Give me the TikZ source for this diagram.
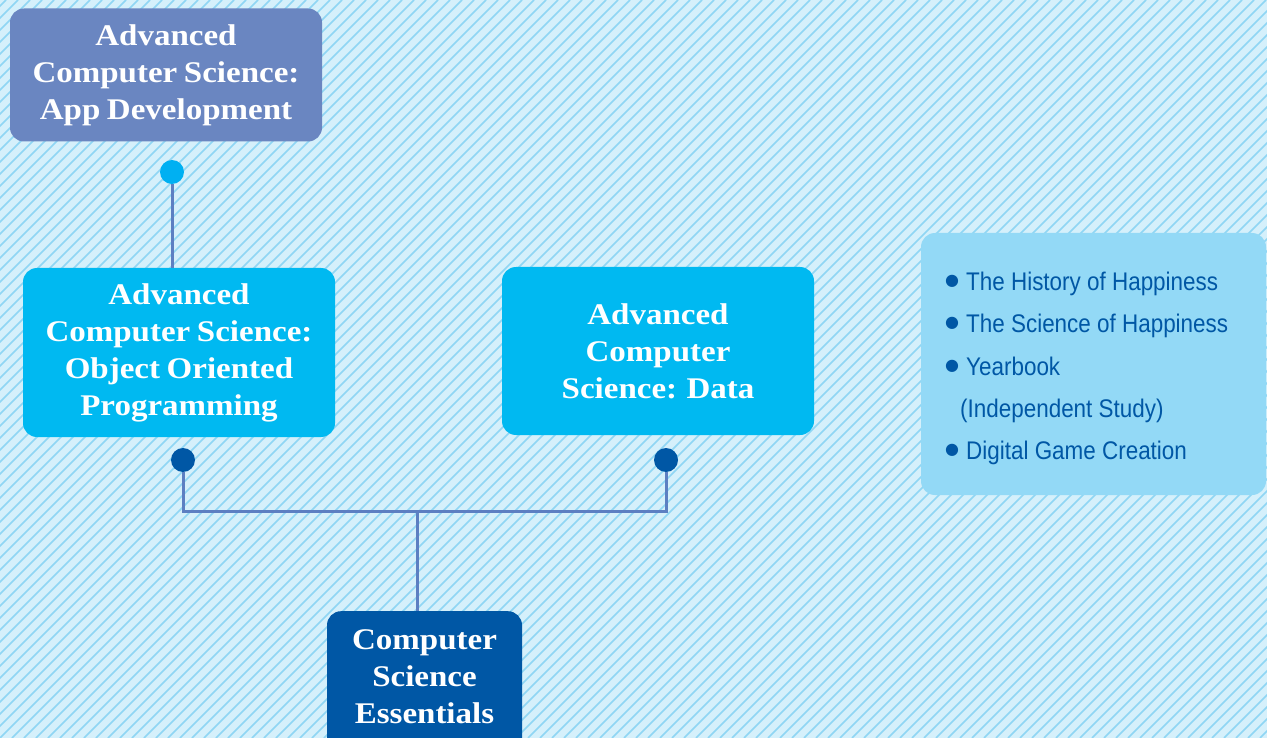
\documentclass[tikz,border=0pt]{standalone}
\usepackage{fontspec}
\setmainfont{Liberation Serif}
\newfontfamily\cursofont[FakeStretch=1.1,WordSpace=0.8]{Liberation Serif}
\newfontfamily\listafont[FakeStretch=0.88]{Liberation Sans}
\newfontfamily\simbolo{DejaVu Sans}
\usepackage{tikz}
\usetikzlibrary{calc}

\definecolor{fondo}{HTML}{D5F0FB}
\definecolor{raya}{HTML}{8FD6F4}
\definecolor{azulapp}{HTML}{6A86C1}
\definecolor{celeste}{HTML}{00B9F1}
\definecolor{marino}{HTML}{0057A5}
\definecolor{claro}{HTML}{93D9F6}
\definecolor{linea}{HTML}{5C7FC2}

\newcommand{\vineta}{\makebox[21pt][l]{\raisebox{5pt}{\simbolo\fontsize{16}{0}\selectfont ●}}}

\tikzset{
  curso/.style={fill=#1, rounded corners=14pt, text=white, align=center,
    minimum width=312pt, inner sep=0pt,
    font=\cursofont\bfseries\fontsize{30}{37}\selectfont},
  punto/.style={circle, fill=#1, minimum size=24pt, inner sep=0pt},
  enlace/.style={draw=linea, line width=3pt}
}

\begin{document}
\begin{tikzpicture}[x=1pt,y=-1pt]
\useasboundingbox (0,0) rectangle (1267,738);
% Fondo rayado
\fill[fondo] (0,0) rectangle (1267,738);
\begin{scope}
\clip (0,0) rectangle (1267,738);
\foreach \i in {-744,-732,...,1267}
  \draw[raya, line width=1.6pt] (\i,738) -- ++(738,-738);
\end{scope}
% Cursos
\node[curso=azulapp, minimum height=133pt] (appdev) at (166,75)
  {Advanced\\Computer Science:\\App Development};
\node[curso=celeste, minimum height=169pt] (oop) at (179,352.5)
  {Advanced\\Computer Science:\\Object Oriented\\Programming};
\node[curso=celeste, minimum height=168pt] (data) at (658,351)
  {Advanced\\Computer\\Science: Data};
\node[curso=marino, minimum width=195pt, minimum height=160pt, anchor=north]
  (essentials) at (424.5,611) {};
\node[text=white, align=center, font=\cursofont\bfseries\fontsize{30}{37}\selectfont]
  (essentialstxt) at (424.5,676.5) {Computer\\Science\\Essentials};
% Puntos
\node[punto=celeste!95!blue] (dotapp) at (172,172) {};
\node[punto=marino] (dotoop) at (183,460) {};
\node[punto=marino] (dotdata) at (666,460) {};
% Enlaces
\coordinate (bar) at (417,511);
\draw[enlace] (dotapp.south) -- (dotapp.south |- oop.north);
\draw[enlace] (dotoop.south) |- (bar) -| (dotdata.south);
\draw[enlace] (bar) -- (bar |- essentials.north);
% Lista de optativas
\node[fill=claro, rounded corners=14pt, minimum width=345pt, minimum height=262pt]
  (optativas) at (1093.5,364) {};
\node[anchor=west, align=left, text=marino, inner sep=0pt,
  font=\listafont\fontsize{25.5}{42.3}\selectfont] (lista) at (945,368.5)
  {\vineta The History of Happiness\\
   \vineta The Science of Happiness\\
   \vineta Yearbook\\
   \hspace*{15pt}(Independent Study)\\
   \vineta Digital Game Creation};
\end{tikzpicture}
\end{document}
